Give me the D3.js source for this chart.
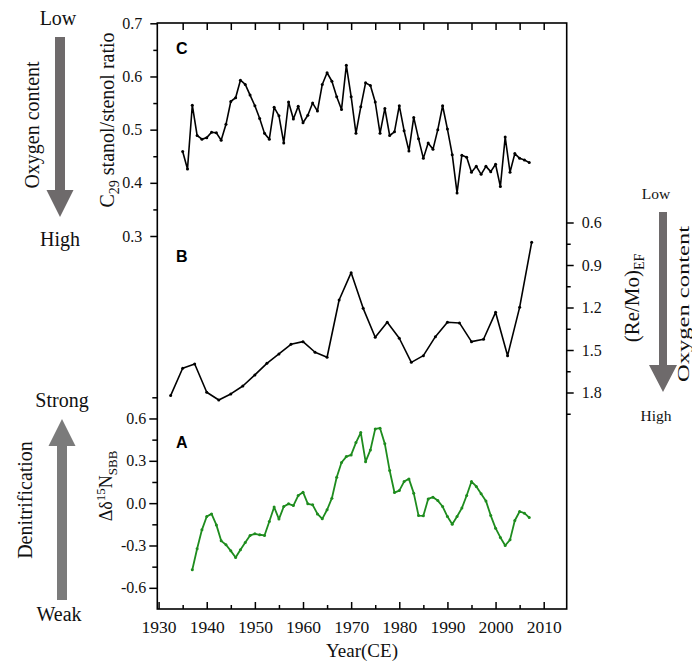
<!DOCTYPE html>
<html><head><meta charset="utf-8">
<script src="https://cdn.jsdelivr.net/npm/d3@7"></script>
<style>
body{margin:0;background:#fff}
.tick line{stroke:#000;stroke-width:1.5}
</style>
</head><body>
<svg id="c" width="692" height="663"></svg>
<script>
// ---- data ----
const yearsC = [1935,1936,1937,1938,1939,1940,1941,1942,1943,1944,1945,1946,1947,1948,1949,1950,1951,1952,1953,1954,1955,1956,1957,1958,1959,1960,1961,1962,1963,1964,1965,1966,1967,1968,1969,1970,1971,1972,1973,1974,1975,1976,1977,1978,1979,1980,1981,1982,1983,1984,1985,1986,1987,1988,1989,1990,1991,1992,1993,1994,1995,1996,1997,1998,1999,2000,2001,2002,2003,2004,2005,2006,2007];
const stanolRatio = [0.459,0.426,0.546,0.489,0.482,0.485,0.495,0.494,0.480,0.510,0.553,0.560,0.593,0.585,0.565,0.545,0.521,0.493,0.482,0.542,0.526,0.475,0.552,0.520,0.544,0.513,0.527,0.550,0.535,0.585,0.607,0.591,0.562,0.538,0.621,0.562,0.493,0.543,0.588,0.583,0.552,0.493,0.540,0.489,0.496,0.545,0.498,0.460,0.523,0.483,0.446,0.475,0.463,0.500,0.545,0.501,0.453,0.381,0.452,0.448,0.420,0.431,0.416,0.431,0.421,0.435,0.393,0.486,0.420,0.455,0.446,0.443,0.438];

const yearsB = [1932.5,1935,1937.5,1940,1942.5,1945,1947.5,1950,1952.5,1955,1957.5,1960,1962.5,1965,1967.5,1970,1972.5,1975,1977.5,1980,1982.5,1985,1987.5,1990,1992.5,1995,1997.5,2000,2002.5,2005,2007.5];
const reMoEF = [1.822,1.629,1.599,1.798,1.853,1.810,1.754,1.676,1.594,1.528,1.460,1.441,1.516,1.551,1.147,0.954,1.206,1.410,1.304,1.417,1.587,1.540,1.406,1.304,1.309,1.441,1.424,1.234,1.540,1.199,0.740];

const yearsA = [1937,1938,1939,1940,1941,1942,1943,1944,1945,1946,1947,1948,1949,1950,1951,1952,1953,1954,1955,1956,1957,1958,1959,1960,1961,1962,1963,1964,1965,1966,1967,1968,1969,1970,1971,1972,1973,1974,1975,1976,1977,1978,1979,1980,1981,1982,1983,1984,1985,1986,1987,1988,1989,1990,1991,1992,1993,1994,1995,1996,1997,1998,1999,2000,2001,2002,2003,2004,2005,2006,2007];
const d15N = [-0.472,-0.323,-0.189,-0.095,-0.076,-0.154,-0.267,-0.295,-0.338,-0.385,-0.330,-0.279,-0.229,-0.217,-0.224,-0.229,-0.130,-0.028,-0.113,-0.024,-0.005,-0.017,0.054,0.078,-0.005,-0.012,-0.076,-0.111,-0.047,0.035,0.184,0.288,0.330,0.342,0.429,0.500,0.294,0.377,0.526,0.531,0.420,0.231,0.075,0.089,0.153,0.172,0.071,-0.088,-0.090,0.030,0.042,0.018,-0.024,-0.095,-0.149,-0.095,-0.035,0.054,0.153,0.118,0.066,0.016,-0.088,-0.177,-0.243,-0.300,-0.260,-0.123,-0.059,-0.071,-0.102];

const xMajor = [1930,1940,1950,1960,1970,1980,1990,2000,2010];
const xMinor = [1935,1945,1955,1965,1975,1985,1995,2005];
const xTop = [1935,1940,1945,1950,1955,1960,1965,1970,1975,1980,1985,1990,1995,2000,2005,2010];
const cMajor = [0.3,0.4,0.5,0.6,0.7];
const cMinor = [0.35,0.45,0.55,0.65];
const bMajor = [0.6,0.9,1.2,1.5,1.8];
const bMinor = [0.75,1.05,1.35,1.65,1.95];
const aMajor = [-0.6,-0.3,0.0,0.3,0.6];
const aMinor = [-0.45,-0.15,0.15,0.45,0.75];

// ---- layout ----
const SERIF = "Liberation Serif";
const svg = d3.select("#c");
const L = 157.3, R = 566.7, T = 23, B = 609;
const x = d3.scaleLinear().domain([1930, 2010]).range([158.6, 543.7]);
const yC = d3.scaleLinear().domain([0.3, 0.7]).range([236, 23.3]);
const yB = d3.scaleLinear().domain([0.6, 1.8]).range([222.5, 392.5]);
const yA = d3.scaleLinear().domain([-0.75, 0.75]).range([609, 397.3]);
const fmt1 = d => d.toFixed(1);

function ax(gen, tx, ty, fs) {
  const g = svg.append("g").attr("transform", `translate(${tx},${ty})`);
  g.call(gen);
  g.attr("font-family", SERIF).attr("font-size", fs || 16);
  g.selectAll("text").attr("fill", "#111");
  g.select(".domain").remove();
  return g;
}
// x axis bottom
ax(d3.axisBottom(x).tickValues(xMajor).tickSize(-7).tickFormat(""), 0, B);
ax(d3.axisBottom(x).tickValues(xMinor).tickSize(-4).tickFormat(""), 0, B);
ax(d3.axisBottom(x).tickValues(xMajor).tickSize(0).tickPadding(12).tickFormat(d3.format("d")), 0, B, 17.5);
// top ticks
ax(d3.axisTop(x).tickValues(xTop).tickSize(-7).tickFormat(""), 0, T);
// left C
ax(d3.axisLeft(yC).tickValues(cMajor).tickSize(7).tickPadding(8).tickFormat(fmt1), L, 0);
ax(d3.axisLeft(yC).tickValues(cMinor).tickSize(4).tickFormat(""), L, 0);
// left A
ax(d3.axisLeft(yA).tickValues(aMajor).tickSize(8).tickPadding(3).tickFormat(fmt1), L, 0);
ax(d3.axisLeft(yA).tickValues(aMinor).tickSize(5).tickFormat(""), L, 0);
// right B
ax(d3.axisRight(yB).tickValues(bMajor).tickSize(7).tickPadding(8).tickFormat(fmt1), R, 0);
ax(d3.axisRight(yB).tickValues(bMinor).tickSize(4).tickFormat(""), R, 0);

// frame
svg.append("rect").attr("x", L).attr("y", T).attr("width", R - L).attr("height", B - T)
  .attr("fill", "none").attr("stroke", "#000").attr("stroke-width", 1.6);

// series
function series(xs, vs, ys, color, w) {
  const pts = xs.map((d, i) => [d, vs[i]]);
  svg.append("path").datum(pts)
    .attr("d", d3.line().x(d => x(d[0])).y(d => ys(d[1])))
    .attr("fill", "none").attr("stroke", color).attr("stroke-width", w).attr("stroke-linejoin", "round");
  svg.append("g").selectAll("circle").data(pts).join("circle")
    .attr("cx", d => x(d[0])).attr("cy", d => ys(d[1])).attr("r", 1.5).attr("fill", color);
}
series(yearsC, stanolRatio, yC, "#000", 1.6);
series(yearsB, reMoEF, yB, "#000", 1.6);
series(yearsA, d15N, yA, "#1e8c1e", 1.8);

// panel letters
[["C", 54], ["B", 262], ["A", 448]].forEach(([t, yy]) => {
  svg.append("text").attr("x", 176).attr("y", yy).text(t)
    .style("font-family", "Liberation Sans").style("font-weight", "bold").style("font-size", "16px");
});

// axis titles
svg.append("text").attr("x", 362).attr("y", 657).attr("text-anchor", "middle")
  .style("font-family", SERIF).style("font-size", "19px").attr("fill", "#111").text("Year(CE)");

function rotText(cx, cy, size, parts, opts) {
  const t = svg.append("text").attr("transform", `translate(${cx},${cy}) rotate(-90)`)
    .attr("text-anchor", "middle").attr("dy", "0.35em").attr("fill", "#111")
    .style("font-family", SERIF).style("font-size", size + "px");
  if (opts && opts.len) t.attr("textLength", opts.len).attr("lengthAdjust", "spacingAndGlyphs");
  parts.forEach(p => {
    const s = t.append("tspan").text(p.t);
    if (p.dy) s.attr("dy", p.dy);
    if (p.fs) s.style("font-size", p.fs + "px");
  });
  return t;
}
rotText(107, 120, 20, [{t: "C"}, {t: "29", dy: 5, fs: 14}, {t: " stanol/stenol ratio", dy: -5}]);
rotText(106, 486, 18, [{t: "Δδ"}, {t: "15", dy: -7, fs: 13}, {t: "N", dy: 7}, {t: "SBB", dy: 5, fs: 13}]);
rotText(632, 298, 21, [{t: "(Re/Mo)"}, {t: "EF", dy: 5, fs: 14}]);

// annotations
function label(tx, ty, size, txt) {
  svg.append("text").attr("x", tx).attr("y", ty).attr("text-anchor", "middle").attr("fill", "#111")
    .style("font-family", SERIF).style("font-size", size + "px").text(txt);
}
function arrow(cx, y0, yBase, yTip, shaftW, headW, color) {
  const p = d3.path();
  p.moveTo(cx - shaftW / 2, y0); p.lineTo(cx + shaftW / 2, y0);
  p.lineTo(cx + shaftW / 2, yBase); p.lineTo(cx + headW / 2, yBase);
  p.lineTo(cx, yTip); p.lineTo(cx - headW / 2, yBase);
  p.lineTo(cx - shaftW / 2, yBase); p.closePath();
  svg.append("path").attr("d", p.toString()).attr("fill", color);
}
// left top
label(58, 25, 20, "Low");
arrow(60, 37, 190, 217, 10, 27, "#6e6a6b");
label(60, 246, 20, "High");
rotText(32, 125, 20, [{t: "Oxygen content"}]);
// left bottom
label(62, 407, 20, "Strong");
arrow(62, 600, 446, 419, 10, 27, "#7b7b7b");
label(59, 621, 20, "Weak");
rotText(25, 500, 20, [{t: "Denitrification"}]);
// right
label(656, 199, 15.5, "Low");
arrow(663, 212, 365, 392, 8, 28, "#6e6a6b");
label(656, 421, 15.5, "High");
rotText(683, 304, 16, [{t: "Oxygen content"}], {len: 156});
</script>
</body></html>
